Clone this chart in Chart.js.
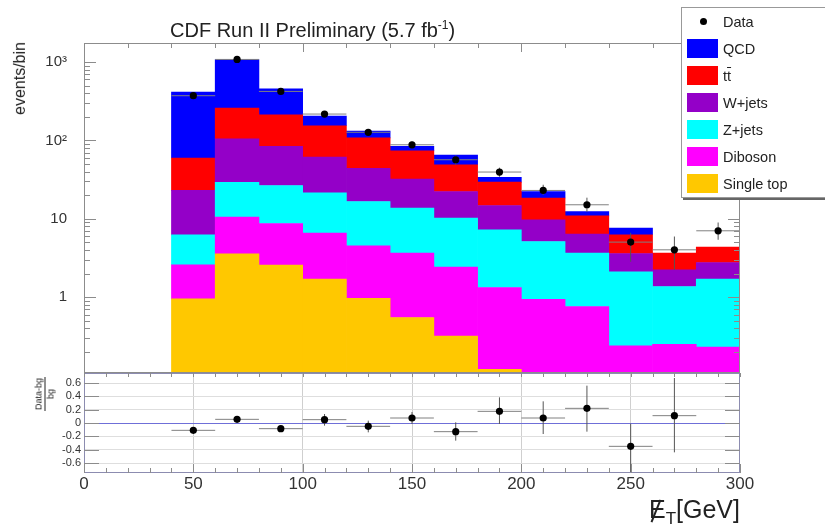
<!DOCTYPE html>
<html>
<head>
<meta charset="utf-8">
<script src="https://cdn.jsdelivr.net/npm/chart.js@4.4.1/dist/chart.umd.min.js"></script>
<style>
  html, body { margin: 0; padding: 0; background: #fff; }
  #wrap { position: relative; width: 825px; height: 525px; overflow: hidden;
          font-family: "Liberation Sans", Arial, sans-serif; color: #222; }
  canvas { position: absolute; left: 0; }
  .t { position: absolute; line-height: 1; white-space: nowrap; }
  #legend { position: absolute; left: 681px; top: 7px; width: 160px; height: 189px;
            background: #fff; border: 1px solid #999; box-shadow: 2px 2px 0 #666; }
  .sw { position: absolute; left: 5px; width: 31px; height: 18.5px; }
  .lt { position: absolute; left: 41px; font-size: 14.5px; line-height: 1; white-space: nowrap; }
  .dot { position: absolute; left: 18px; top: 10px; width: 7px; height: 7px; border-radius: 50%; background: #000; }
  .slashE { position: relative; display: inline-block; }
  .slashE::after { content: ""; position: absolute; left: 6px; top: 2px; width: 1.6px; height: 24px;
                   background: #222; transform: rotate(22deg); }
  .frac { position: absolute; left: 45px; top: 394px; transform: translate(-50%, -50%) rotate(-90deg);
          font-size: 9px; line-height: 1; text-align: center; }
  .frac .num { display: block; border-bottom: 1px solid #222; padding: 0 1px 1px 1px; }
  .frac .den { display: block; padding-top: 1px; }
</style>
</head>
<body>
<div id="wrap">
  <!-- the upper canvas runs 26px past the panel to leave room for the axis label padding -->
  <canvas id="top" width="825" height="398" style="top:0"></canvas>
  <canvas id="bottom" width="825" height="165" style="top:360px"></canvas>

  <div class="t" style="left:170px; top:20.4px; font-size:20px;">CDF Run II Preliminary (5.7 fb<span style="position:relative; top:-8px; font-size:12px;">-1</span>)</div>

  <div class="t" style="right:813.5px; top:42px; font-size:16px; transform-origin:right top; transform:rotate(-90deg);">events/bin</div>

  <div class="frac"><span class="num">Data-bg</span><span class="den">bg</span></div>

  <div class="t" style="right:85px; top:496.8px; font-size:25px;"><span class="slashE">E</span><span style="position:relative; top:6px; font-size:17px;">T</span>[GeV]</div>

  <div id="legend">
    <div class="dot"></div>
    <div class="lt" style="top:7.3px">Data</div>
    <div class="sw" style="top:31px; background:#0000ff"></div>
    <div class="lt" style="top:33.8px">QCD</div>
    <div class="sw" style="top:58px; background:#ff0000"></div>
    <div class="lt" style="top:60.8px">t<span style="text-decoration:overline">t</span></div>
    <div class="sw" style="top:85px; background:#9400c8"></div>
    <div class="lt" style="top:87.8px">W+jets</div>
    <div class="sw" style="top:112px; background:#00ffff"></div>
    <div class="lt" style="top:114.8px">Z+jets</div>
    <div class="sw" style="top:139px; background:#ff00ff"></div>
    <div class="lt" style="top:141.8px">Diboson</div>
    <div class="sw" style="top:166px; background:#ffc800"></div>
    <div class="lt" style="top:168.8px">Single top</div>
  </div>
</div>

<script>
// Missing-ET histogram bins (GeV)
const binEdges = [40, 60, 80, 100, 120, 140, 160, 180, 200, 220, 240, 260, 280, 300];

// Background expectations per bin, events/bin (stacked bottom to top)
const singleTop = [0.95, 3.57, 2.56, 1.70, 0.97, 0.55, 0.32, 0.12, 0, 0, 0, 0, 0];
const diboson   = [1.64, 6.93, 6.15, 4.87, 3.55, 3.10, 2.10, 1.21, 0.94, 0.76, 0.24, 0.25, 0.23];
const zJets     = [3.66, 18.6, 17.9, 14.9, 12.1, 10.05, 7.78, 5.91, 4.19, 2.89, 1.87, 1.12, 1.47];
const wJets     = [16.8, 75.9, 57.2, 39.9, 27.3, 18.4, 12.1, 7.56, 4.58, 2.73, 1.50, 0.86, 1.07];
const ttbar     = [36.6, 154, 129, 92.6, 64.1, 41.7, 26.6, 14.6, 8.69, 4.52, 2.65, 1.42, 1.58];
const qcd       = [355, 814, 244, 51, 24, 10, 16.1, 4.3, 3.9, 1.5, 1.36, 0, 0];

// Observed data with its uncertainty band
const dataVals = [372, 1080, 422, 217, 127, 88, 56.7, 39.5, 23.0, 15.1, 5.04, 4.02, 7.03];
const dataLo   = [353, 1047, 401, 202, 116, 79, 49, 34.4, 20.2, 12.3, 2.83, 2.23, 5.4];
const dataHi   = [391, 1113, 443, 232, 138, 97, 64, 44.9, 27.2, 18.6, 6.62, 5.94, 8.97];

// (Data - bg) / bg
const ratioVals    = [-0.11, 0.055, -0.085, 0.05, -0.05, 0.075, -0.13, 0.175, 0.075, 0.22, -0.35, 0.11, null];
const ratioErrUp   = [0.03, 0.03, 0.04, 0.085, 0.085, 0.09, 0.14, 0.21, 0.25, 0.34, 0.34, 0.565, null];
const ratioErrDown = [0.03, 0.03, 0.04, 0.09, 0.09, 0.09, 0.135, 0.19, 0.24, 0.35, 0.45, 0.55, null];

// Upper-panel tick labels (log axis)
const logTickLabels = { '0': '1', '1': '10', '2': '10\u00B2', '3': '10\u00B3' };

const FONT = '"Liberation Sans", Arial, sans-serif';
const centers = binEdges.slice(0, -1).map((e, i) => (e + binEdges[i + 1]) / 2);
const halfW = binEdges.slice(0, -1).map((e, i) => (binEdges[i + 1] - e) / 2);

// Stacked background components, bottom first
const components = [
  { label: 'Single top', vals: singleTop, color: '#ffc800' },
  { label: 'Diboson',    vals: diboson,   color: '#ff00ff' },
  { label: 'Z+jets',     vals: zJets,     color: '#00ffff' },
  { label: 'W+jets',     vals: wJets,     color: '#9400c8' },
  { label: 'tt',         vals: ttbar,     color: '#ff0000' },
  { label: 'QCD',        vals: qcd,       color: '#0000ff' }
];
const barSets = components.map(c => ({
  type: 'bar', label: c.label, stack: 'bkg',
  data: centers.map((x, i) => ({ x: x, y: c.vals[i] > 0 ? c.vals[i] : null })),
  backgroundColor: c.color, borderWidth: 0, barThickness: 'flex',
  barPercentage: 1, categoryPercentage: 1
}));

function line(ctx, x1, y1, x2, y2) {
  ctx.beginPath(); ctx.moveTo(x1, y1); ctx.lineTo(x2, y2); ctx.stroke();
}

function errorBars(chart, vals, lo, hi) {
  const ctx = chart.ctx, xs = chart.scales.x, ys = chart.scales.y, a = chart.chartArea;
  ctx.save();
  ctx.beginPath(); ctx.rect(a.left, a.top, a.right - a.left, a.bottom - a.top); ctx.clip();
  ctx.lineWidth = 1;
  vals.forEach((v, i) => {
    if (v === null) return;
    const px = xs.getPixelForValue(centers[i]);
    const py = ys.getPixelForValue(v);
    ctx.strokeStyle = '#808080';
    line(ctx, xs.getPixelForValue(centers[i] - halfW[i]), py, xs.getPixelForValue(centers[i] + halfW[i]), py);
    ctx.strokeStyle = '#555';
    line(ctx, px, ys.getPixelForValue(lo[i]), px, ys.getPixelForValue(hi[i]));
  });
  ctx.restore();
}

// Upper panel: stacked backgrounds on a log axis with data overlaid
new Chart(document.getElementById('top'), {
  type: 'bar',
  data: {
    datasets: [
      { type: 'scatter', label: 'Data', stack: 'obs',
        data: centers.map((x, i) => ({ x: x, y: dataVals[i] })),
        backgroundColor: '#000', borderWidth: 0, pointRadius: 3.6, pointHoverRadius: 3.6 },
      ...barSets
    ]
  },
  options: {
    responsive: false, animation: false, devicePixelRatio: 1,
    layout: { padding: { left: 0, right: 85, top: 43, bottom: 0 } },
    plugins: { legend: { display: false }, tooltip: { enabled: false } },
    scales: {
      x: { type: 'linear', min: 0, max: 300, display: false, offset: false,
           grid: { offset: false }, ticks: { stepSize: 20 },
           afterFit: s => { s.height = 0; } },
      y: {
        type: 'logarithmic', min: 0.111, max: 1750, stacked: true,
        afterFit: s => { s.width = 84; },
        grid: { display: false, drawTicks: false }, border: { display: false },
        ticks: {
          autoSkip: false, padding: 17, color: '#333', font: { family: FONT, size: 15 },
          callback: v => {
            const l = Math.log10(v), r = Math.round(l);
            return Math.abs(l - r) < 1e-6 && logTickLabels[String(r)] ? logTickLabels[String(r)] : '';
          }
        }
      }
    }
  },
  plugins: [{
    id: 'histExtras',
    beforeDatasetDraw(chart, args) {
      if (args.index === 0) errorBars(chart, dataVals, dataLo, dataHi);
    },
    afterDraw(chart) {
      const ctx = chart.ctx, a = chart.chartArea, ys = chart.scales.y, xs = chart.scales.x;
      ctx.save();
      ctx.strokeStyle = '#8c8c8c'; ctx.lineWidth = 1;
      ctx.strokeRect(Math.round(a.left) + 0.5, Math.round(a.top) + 0.5,
                     Math.round(a.right - a.left) - 1, Math.round(a.bottom - a.top));
      for (let e = -1; e <= 3; e++) {
        for (let m = 1; m <= 9; m++) {
          const v = m * Math.pow(10, e);
          if (v < ys.min || v > ys.max) continue;
          const py = Math.round(ys.getPixelForValue(v)) + 0.5;
          const len = m === 1 ? 12 : 6;
          line(ctx, a.left, py, a.left + len, py);
          line(ctx, a.right - len, py, a.right, py);
        }
      }
      for (let g = 0; g <= 300; g += 20) {
        const px = Math.round(xs.getPixelForValue(g)) + 0.5;
        line(ctx, px, a.top, px, a.top + (g % 100 === 0 ? 9 : 5));
      }
      ctx.restore();
    }
  }]
});

// Lower panel: relative difference between data and expectation
new Chart(document.getElementById('bottom'), {
  type: 'scatter',
  data: {
    datasets: [{
      label: 'ratio', data: centers.map((x, i) => ({ x: x, y: ratioVals[i] })),
      backgroundColor: '#000', borderWidth: 0, pointRadius: 3.6, pointHoverRadius: 3.6
    }]
  },
  options: {
    responsive: false, animation: false, devicePixelRatio: 1,
    layout: { padding: { left: 0, right: 85, top: 13, bottom: 0 } },
    plugins: { legend: { display: false }, tooltip: { enabled: false } },
    scales: {
      x: {
        type: 'linear', min: 0, max: 300,
        afterFit: s => { s.height = 52; },
        border: { display: false },
        grid: { drawTicks: false, color: c => (c.tick.value > 0 && c.tick.value < 300) ? '#cfcfcf' : 'rgba(0,0,0,0)' },
        ticks: { stepSize: 50, autoSkip: false, maxRotation: 0, padding: 1, color: '#333',
                 font: { family: FONT, size: 17 } }
      },
      y: {
        type: 'linear', min: -0.75, max: 0.75,
        afterFit: s => { s.width = 84; },
        border: { display: false },
        grid: { drawTicks: false, color: c => Math.abs(c.tick.value) < 1e-9 ? '#6f6fd8' : '#dedede' },
        ticks: { stepSize: 0.2, includeBounds: false, autoSkip: false, padding: 3, color: '#333',
                 font: { family: FONT, size: 11 },
                 callback: v => Math.abs(v) < 1e-9 ? '0' : v.toFixed(1) }
      }
    }
  },
  plugins: [{
    id: 'ratioExtras',
    beforeDatasetDraw(chart) {
      const lo = ratioVals.map((v, i) => v === null ? null : v - ratioErrDown[i]);
      const hi = ratioVals.map((v, i) => v === null ? null : v + ratioErrUp[i]);
      errorBars(chart, ratioVals, lo, hi);
    },
    afterDraw(chart) {
      const ctx = chart.ctx, a = chart.chartArea, ys = chart.scales.y, xs = chart.scales.x;
      ctx.save();
      ctx.lineWidth = 1; ctx.strokeStyle = '#8c8cb0';
      ctx.strokeRect(Math.round(a.left) + 0.5, Math.round(a.top) + 0.5,
                     Math.round(a.right - a.left) - 1, Math.round(a.bottom - a.top) - 1);
      ctx.strokeStyle = '#8c8c8c';
      for (let t = -0.6; t <= 0.61; t += 0.2) {
        const py = Math.round(ys.getPixelForValue(t)) + 0.5;
        line(ctx, a.left, py, a.left + 15, py);
        line(ctx, a.right - 15, py, a.right, py);
      }
      for (let g = 0; g <= 300; g += 10) {
        const px = Math.round(xs.getPixelForValue(g)) + 0.5;
        line(ctx, px, a.bottom, px, a.bottom - (g % 50 === 0 ? 9 : 5));
        line(ctx, px, a.top, px, a.top + 4);
      }
      ctx.restore();
    }
  }]
});
</script>
</body>
</html>
